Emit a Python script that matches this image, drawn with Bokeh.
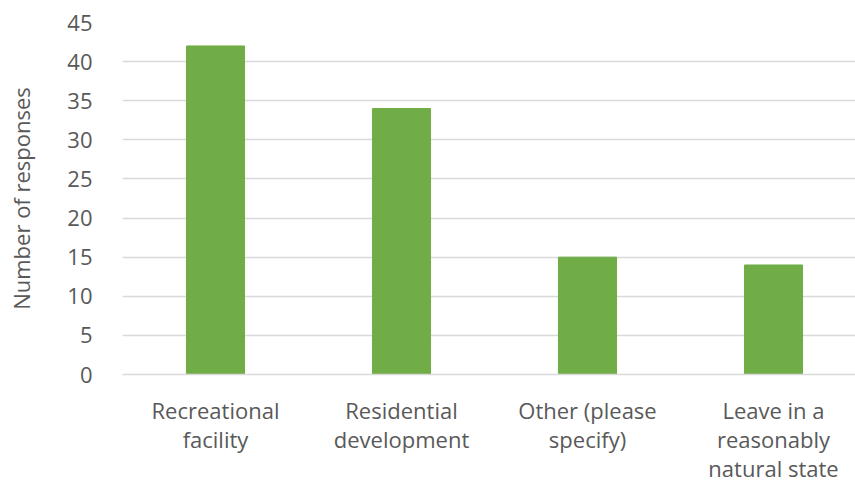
from bokeh.plotting import figure
from bokeh.models import Range1d, FixedTicker, ColumnDataSource
from bokeh.embed import file_html
from bokeh.resources import INLINE

categories = ["Recreational\nfacility", "Residential\ndevelopment", "Other (please\nspecify)", "Leave in a\nreasonably\nnatural state"]
responses = [42, 34, 15, 14]
y_ticks = [0, 5, 10, 15, 20, 25, 30, 35, 40, 45]

xs = [i + 0.5 for i in range(len(categories))]
src = ColumnDataSource(dict(x=xs, top=responses))

FONT = "Open Sans"
GRAY = "#595959"

p = figure(width=855, height=485, frame_width=733, frame_height=352,
           output_backend="svg", toolbar_location=None,
           x_range=Range1d(0, 733 / 186), y_range=Range1d(0, 45),
           min_border_left=122, min_border_right=0, min_border_top=22, min_border_bottom=100)
p.outline_line_color = None
p.vbar(x="x", top="top", width=0.312, bottom=0, source=src, color="#70AD47")

p.xgrid.grid_line_color = None
p.ygrid.grid_line_color = "#d9d9d9"
p.ygrid.grid_line_width = 1.5

p.yaxis.ticker = FixedTicker(ticks=y_ticks)
p.yaxis.axis_line_color = None
p.yaxis.major_tick_line_color = None
p.yaxis.minor_tick_line_color = None
p.yaxis.major_label_text_font = FONT
p.yaxis.major_label_text_font_size = "22px"
p.yaxis.major_label_text_color = GRAY
p.yaxis.major_label_standoff = 24
p.yaxis.axis_label = "Number of responses"
p.yaxis.axis_label_text_font = FONT
p.yaxis.axis_label_text_font_size = "22px"
p.yaxis.axis_label_text_font_style = "normal"
p.yaxis.axis_label_text_color = GRAY
p.yaxis.axis_label_standoff = 28

p.xaxis.ticker = FixedTicker(ticks=xs)
p.xaxis.major_label_overrides = {x: c for x, c in zip(xs, categories)}
p.xaxis.axis_line_color = "#d9d9d9"
p.xaxis.axis_line_width = 1.5
p.xaxis.major_tick_line_color = None
p.xaxis.minor_tick_line_color = None
p.xaxis.major_label_text_font = FONT
p.xaxis.major_label_text_font_size = "22px"
p.xaxis.major_label_text_color = GRAY
p.xaxis.major_label_standoff = 14
p.xaxis.major_label_text_line_height = 0.98

open("out.html", "w").write(file_html(p, INLINE))
